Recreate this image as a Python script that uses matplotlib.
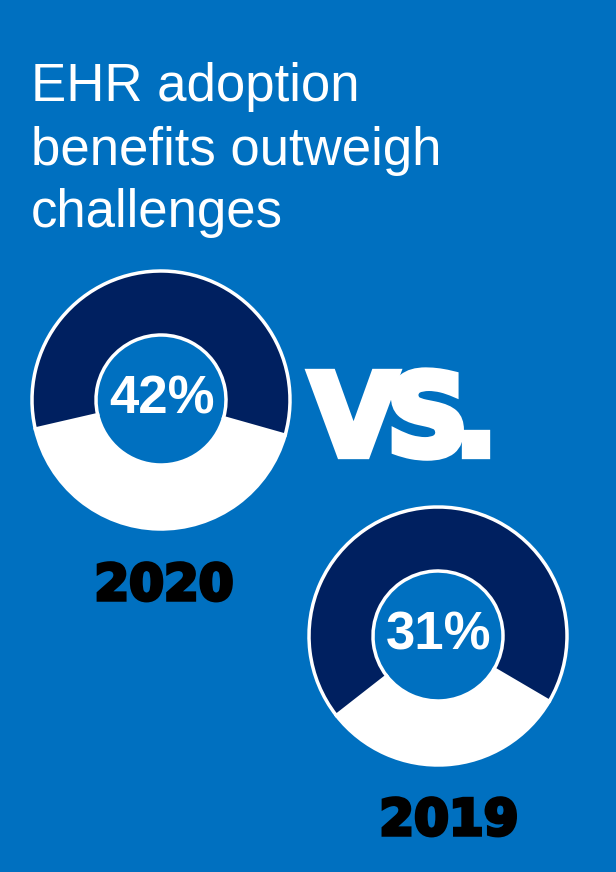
import matplotlib

matplotlib.use("Agg")
import matplotlib.pyplot as plt
import matplotlib.patheffects as pe

# Share of respondents saying EHR adoption benefits outweigh challenges
years = ["2020", "2019"]
shares = [42, 31]
start_angles = [193, 218]

BG = "#0070C0"
NAVY = "#002060"
W, H = 616, 872


def donut(ax, cx, cy, share, start):
    ax.pie(
        [share, 100 - share],
        colors=["white", NAVY],
        startangle=start,
        counterclock=True,
        center=(cx, cy),
        radius=129,
        frame=True,
        wedgeprops=dict(width=64, edgecolor="white", linewidth=2.5),
    )


fig = plt.figure(figsize=(W / 100, H / 100), dpi=100, facecolor=BG)
ax = fig.add_axes([0, 0, 1, 1])
ax.set_facecolor(BG)

# Title, one line at a time (pixel baselines measured from the top)
title_lines = ["EHR adoption", "benefits outweigh", "challenges"]
for line, base in zip(title_lines, [101, 165, 227]):
    ax.text(31, H - base, line, fontsize=38, color="white",
            family="Liberation Sans", ha="left", va="baseline")

centers = [(161, H - 400), (438, H - 636)]
year_pos = [(164, H - 600), (449, H - 835)]
for (cx, cy), (yx, yy), yr, share, st in zip(centers, year_pos, years, shares, start_angles):
    donut(ax, cx, cy, share, st)
    ax.text(cx + 1, cy - 14, f"{share}%", fontsize=38, fontweight="bold",
            color="white", family="Liberation Sans", ha="center", va="baseline")
    ax.text(yx, yy, yr, fontsize=36, fontweight="bold", color="black",
            family="DejaVu Sans", ha="center", va="baseline",
            path_effects=[pe.withStroke(linewidth=2.5, foreground="black",
                                        joinstyle="miter")])

# Heavy "VS." set letter by letter with tight spacing
heavy = [pe.withStroke(linewidth=6, foreground="white", joinstyle="miter")]
for ch, x in zip(["V", "S", "."], [310, 387, 455]):
    ax.text(x, H - 455, ch, fontsize=81, fontweight="bold", color="white",
            family="DejaVu Sans", ha="left", va="baseline", path_effects=heavy)

ax.set_xlim(0, W)
ax.set_ylim(0, H)
ax.set_aspect("equal")
ax.axis("off")

fig.savefig("out.png", dpi=100, facecolor=BG)
